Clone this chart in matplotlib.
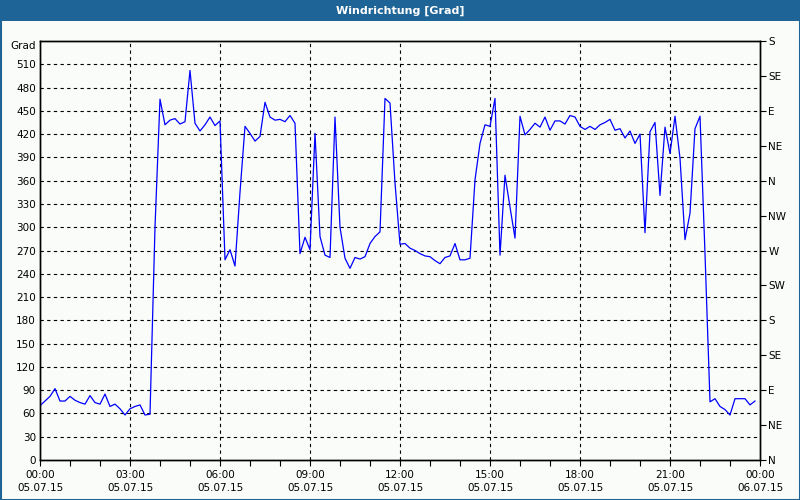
import numpy as np
import matplotlib
matplotlib.use("Agg")
import matplotlib.pyplot as plt
from matplotlib.patches import Rectangle

# ---- data (10-minute samples, 05.07.15 00:00 .. 23:50) ----
hours = [i / 6 for i in range(144)]
direction = [
    70, 76, 82, 92, 76, 76, 82, 77, 74, 72, 83, 74,
    72, 85, 69, 72, 66, 58, 66, 69, 71, 58, 59, 300,
    465, 432, 438, 440, 433, 436, 502, 434, 424, 432, 442, 431,
    437, 258, 271, 250, 345, 430, 421, 411, 417, 461, 442, 438,
    439, 436, 444, 434, 266, 287, 271, 421, 288, 264, 261, 442,
    300, 260, 247, 261, 259, 262, 279, 288, 294, 466, 460, 357,
    278, 279, 273, 270, 266, 263, 262, 257, 253, 261, 263, 279,
    258, 258, 260, 361, 408, 432, 430, 466, 264, 367, 326, 286,
    443, 419, 426, 434, 429, 442, 425, 437, 437, 433, 444, 442,
    430, 426, 430, 426, 432, 435, 439, 425, 427, 415, 424, 408,
    420, 293, 423, 435, 341, 429, 395, 443, 389, 284, 318, 427,
    443, 266, 75, 79, 69, 65, 58, 79, 79, 79, 71, 76,
]
left_ticks = list(range(0, 540, 30))
left_labels = [str(v) for v in left_ticks]
right_ticks = list(range(0, 541, 45))
right_labels = ["N", "NE", "E", "SE", "S", "SW", "W", "NW", "N", "NE", "E", "SE", "S"]
x_ticks = list(range(0, 25, 3))
x_labels = ["00:00\n05.07.15", "03:00\n05.07.15", "06:00\n05.07.15", "09:00\n05.07.15",
            "12:00\n05.07.15", "15:00\n05.07.15", "18:00\n05.07.15", "21:00\n05.07.15",
            "00:00\n06.07.15"]
title = "Windrichtung [Grad]"

bg = "#FAFCFA"
bar = "#1E6496"

fig = plt.figure(figsize=(8, 5), dpi=100, facecolor=bg)
# title bar and frame
fig.patches.append(Rectangle((0, 1 - 21 / 500), 1, 21 / 500, transform=fig.transFigure,
                             facecolor=bar, edgecolor="none", zorder=0))
fig.patches.append(Rectangle((0.5 / 800, 0.5 / 500), 1 - 1 / 800, 1 - 1 / 500, transform=fig.transFigure,
                             facecolor="none", edgecolor=bar, linewidth=1.5, zorder=5))
fig.text(0.5, 1 - 10.5 / 500, title, color="white", ha="center", va="center",
         fontsize=8, fontweight="bold", family="DejaVu Sans")

ax = fig.add_axes([40 / 800, 1 - 460 / 500, 720 / 800, 419 / 500])
ax.set_facecolor(bg)
ax.plot(hours, direction, color="#0000FF", linewidth=0.9, zorder=3)

ax.set_xlim(0, 24)
ax.set_ylim(0, 540)

# grid
for y in left_ticks[1:]:
    ax.axhline(y, color="black", linewidth=0.8, linestyle=(0, (3, 3)), zorder=1)
for x in x_ticks[1:-1]:
    ax.axvline(x, color="black", linewidth=0.8, linestyle=(0, (3, 3)), zorder=1)

# left axis
ax.set_yticks(left_ticks + [540])
ax.set_yticklabels(left_labels + ["Grad"], fontsize=7.5)
ax.tick_params(axis="y", length=0, pad=3)
ax.get_yticklabels()[-1].set_va("top")

# bottom axis
ax.set_xticks(x_ticks)
ax.set_xticklabels(x_labels, fontsize=7.5, linespacing=1.45)
ax.set_xticks(range(0, 25), minor=True)
ax.tick_params(axis="x", which="both", direction="out", length=4, width=0.8, pad=3)

# right axis
ax2 = ax.twinx()
ax2.set_ylim(0, 540)
ax2.set_yticks(right_ticks)
ax2.set_yticklabels(right_labels, fontsize=7.5)
ax2.tick_params(axis="y", direction="out", length=4, width=0.8, pad=2)

for a in (ax, ax2):
    for s in a.spines.values():
        s.set_linewidth(1.0)
        s.set_color("black")

fig.savefig("out.png", dpi=100, facecolor=bg)
